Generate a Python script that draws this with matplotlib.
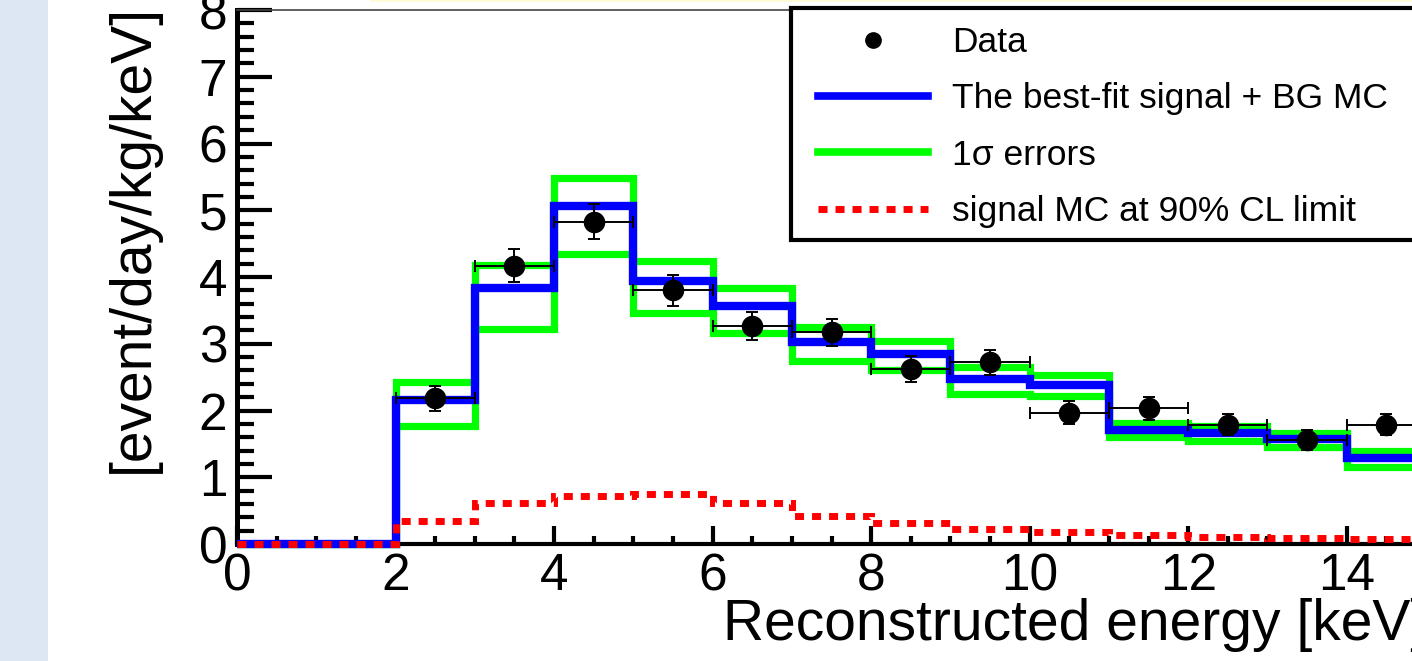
import matplotlib
matplotlib.use("Agg")
import matplotlib.pyplot as plt
from matplotlib.lines import Line2D
from matplotlib.patches import Rectangle
from matplotlib.ticker import MultipleLocator
import numpy as np

plt.rcParams['font.family'] = ['Liberation Sans', 'DejaVu Sans']

# ---- data ----
bin_edges = list(range(0, 16))
best_fit = [0, 0, 2.16, 3.84, 5.07, 3.94, 3.56, 3.02, 2.84, 2.47, 2.38, 1.71, 1.66, 1.58, 1.29]
sigma_up = [0, 0, 2.42, 4.18, 5.49, 4.24, 3.83, 3.25, 3.04, 2.65, 2.53, 1.82, 1.77, 1.67, 1.40]
sigma_dn = [0, 0, 1.77, 3.22, 4.35, 3.46, 3.16, 2.74, 2.60, 2.24, 2.21, 1.61, 1.54, 1.46, 1.16]
signal_limit = [0, 0, 0.35, 0.61, 0.72, 0.75, 0.62, 0.42, 0.31, 0.22, 0.18, 0.13, 0.10, 0.09, 0.07]
data_x = [2.5, 3.5, 4.5, 5.5, 6.5, 7.5, 8.5, 9.5, 10.5, 11.5, 12.5, 13.5, 14.5]
data_y = [2.18, 4.17, 4.83, 3.80, 3.27, 3.17, 2.62, 2.72, 1.97, 2.03, 1.79, 1.56, 1.79]
data_yerr = [0.18, 0.25, 0.26, 0.23, 0.21, 0.20, 0.19, 0.19, 0.17, 0.17, 0.16, 0.15, 0.16]
data_xerr = [0.5] * len(data_x)
legend_labels = ["Data", "The best-fit signal + BG MC", "1\u03c3 errors", "signal MC at 90% CL limit"]

W, H = 1412, 661
fig = plt.figure(figsize=(W / 100, H / 100), dpi=100)
fig.patch.set_facecolor('white')

# decorative strips of the surrounding page
fig.patches.append(Rectangle((0, 0), 48 / W, 1, transform=fig.transFigure,
                             facecolor='#dde7f3', edgecolor='none', zorder=-5))
fig.patches.append(Rectangle((370 / W, 1 - 2 / H), 1, 2 / H, transform=fig.transFigure,
                             facecolor='#fdfbd8', edgecolor='none', zorder=-5))

ax_l, ax_r, ax_t, ax_b = 237, 1426, 10, 544
ax = fig.add_axes([ax_l / W, 1 - ax_b / H, (ax_r - ax_l) / W, (ax_b - ax_t) / H])
ax.set_xlim(0, 15)
ax.set_ylim(0, 8)

# histograms
g1 = ax.stairs(sigma_up, bin_edges, baseline=None, color='#00ff00', lw=5.2, zorder=2)
g2 = ax.stairs(sigma_dn, bin_edges, baseline=None, color='#00ff00', lw=5.2, zorder=2)
b = ax.stairs(best_fit, bin_edges, baseline=None, color='#0000ff', lw=6.0, zorder=3)
r = ax.stairs(signal_limit, bin_edges, baseline=None, color='#ff0000', lw=5.0, zorder=4,
              linestyle=(0, (1.3, 1.15)))
for p in (g1, g2, b, r):
    p.set_joinstyle('miter')
    p.set_capstyle('butt')
    p.set_clip_on(False)

ax.errorbar(data_x, data_y, yerr=data_yerr, xerr=data_xerr, fmt='o', color='black',
            ms=14.5, elinewidth=1.4, capsize=4, capthick=1.4, zorder=6)

# axes styling
ax.spines['right'].set_visible(False)
ax.spines['left'].set_linewidth(3.6)
ax.spines['bottom'].set_linewidth(3.0)
ax.spines['top'].set_linewidth(1.2)
ax.spines['top'].set_color('#444444')

ax.set_xticks(np.arange(0, 16, 2))
ax.xaxis.set_minor_locator(MultipleLocator(0.5))
ax.set_yticks(np.arange(0, 9, 1))
ax.yaxis.set_minor_locator(MultipleLocator(0.2))
ax.tick_params(axis='x', which='major', direction='in', length=13, width=3, labelsize=37, pad=6)
ax.tick_params(axis='x', which='minor', direction='in', length=6, width=3)
ax.tick_params(axis='y', which='major', direction='in', length=25, width=3, labelsize=37, pad=7)
ax.tick_params(axis='y', which='minor', direction='in', length=12, width=3)
ax.tick_params(top=False, right=False, which='both')

fig.text(133 / W, 1 - 238 / H, "[event/day/kg/keV]", rotation=90, ha='center', va='center',
         fontsize=41)
fig.text(ax_r / W, 1 - 640 / H, "Reconstructed energy [keV]", ha='right', va='baseline',
         fontsize=41)

# legend frame
lx0, ly0 = 791, 8
rect = Rectangle(((lx0 - ax_l) / (ax_r - ax_l), (ax_b - 240) / (ax_b - ax_t)),
                 0.7, (240 - ly0) / (ax_b - ax_t),
                 transform=ax.transAxes, facecolor='white', edgecolor='black', lw=3,
                 clip_on=False, zorder=7)
ax.add_patch(rect)

handles = [
    Line2D([], [], marker='o', color='black', ls='none', ms=11),
    Line2D([], [], color='#0000ff', lw=5.5),
    Line2D([], [], color='#00ff00', lw=5.5),
    Line2D([], [], color='#ff0000', lw=5.0, ls=(0, (1.3, 1.15)), dash_capstyle='butt'),
]
leg = fig.legend(handles, legend_labels, loc='upper left',
                 bbox_to_anchor=(818 / W, 1 - 26 / H), bbox_transform=fig.transFigure,
                 frameon=False, fontsize=25.5, handlelength=3.1, handletextpad=0.68,
                 labelspacing=0.66, borderpad=0, borderaxespad=0)
leg.set_zorder(8)

fig.savefig("out.png", dpi=100)
